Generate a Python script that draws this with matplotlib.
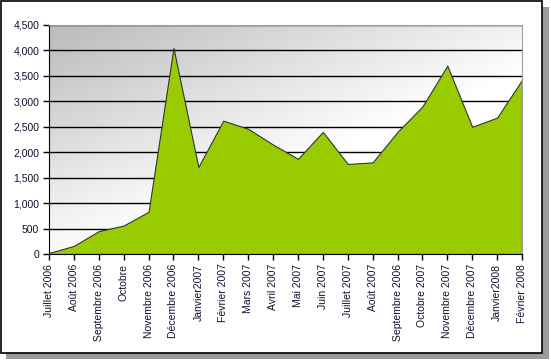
import numpy as np
import matplotlib.pyplot as plt
from matplotlib.patches import Rectangle

plt.rcParams['font.family'] = ['Liberation Sans', 'DejaVu Sans']

months = ['Juillet 2006', 'Août 2006', 'Septembre 2006', 'Octobre', 'Novembre 2006',
          'Décembre 2006', 'Janvier2007', 'Février 2007', 'Mars 2007', 'Avril 2007',
          'Mai 2007', 'Juin 2007', 'Juillet 2007', 'Août 2007', 'Septembre 2006',
          'Octobre 2007', 'Novembre 2007', 'Décembre 2007', 'Janvier2008', 'Février 2008']
visits = [20, 160, 450, 560, 830, 4050, 1710, 2620, 2460, 2150,
          1870, 2400, 1770, 1800, 2400, 2900, 3700, 2500, 2680, 3420]
y_ticks = [0, 500, 1000, 1500, 2000, 2500, 3000, 3500, 4000, 4500]

W, H = 551, 362
fig = plt.figure(figsize=(W / 100, H / 100), dpi=100)

# frame with drop shadow
fig.patches.append(Rectangle((6 / W, 3 / H), 543 / W, 352 / H, transform=fig.transFigure,
                             facecolor='#9a9a9a', edgecolor='none', zorder=0))
fig.patches.append(Rectangle((1 / W, 9 / H), 541 / W, 352 / H, transform=fig.transFigure,
                             facecolor='white', edgecolor='black', lw=1.2, zorder=1))

ax = fig.add_axes([49 / W, 1 - 254 / H, 473 / W, 229 / H])
ax.set_zorder(2)
x = np.arange(len(months))

# gradient background: gray top-left fading to white toward bottom-right
gx, gy = np.meshgrid(np.linspace(0, 1, 200), np.linspace(0, 1, 100))
d = np.clip((1 - gx) * 0.6 + (1 - gy) * 0.7 - 0.55, 0, 1) / 0.75
bright = 1 - 0.27 * d
ax.imshow(bright, extent=[0, len(months) - 1, 0, 4500], origin='upper', aspect='auto',
          cmap='gray', vmin=0, vmax=1, zorder=0, interpolation='bilinear')

for t in y_ticks[1:]:
    ax.axhline(t, color='black', lw=1, zorder=1)

ax.fill_between(x, visits, 0, facecolor='#99CC00', edgecolor='#333333', lw=0.8, zorder=2)

ax.set_xlim(0, len(months) - 1)
ax.set_ylim(0, 4500)
ax.set_yticks(y_ticks)
ax.set_yticklabels([f'{v:,}' for v in y_ticks], fontsize=7.5, color='#101030')
ax.set_xticks(x)
ax.set_xticklabels(months, rotation=90, fontsize=7.5, color='#101030')
ax.tick_params(length=4, width=1, color='black', pad=3)
ax.spines['left'].set_color('black')
ax.spines['bottom'].set_color('black')
ax.spines['top'].set_color('#a0a0a0')
ax.spines['right'].set_color('#a0a0a0')

fig.savefig('out.png', dpi=100)
